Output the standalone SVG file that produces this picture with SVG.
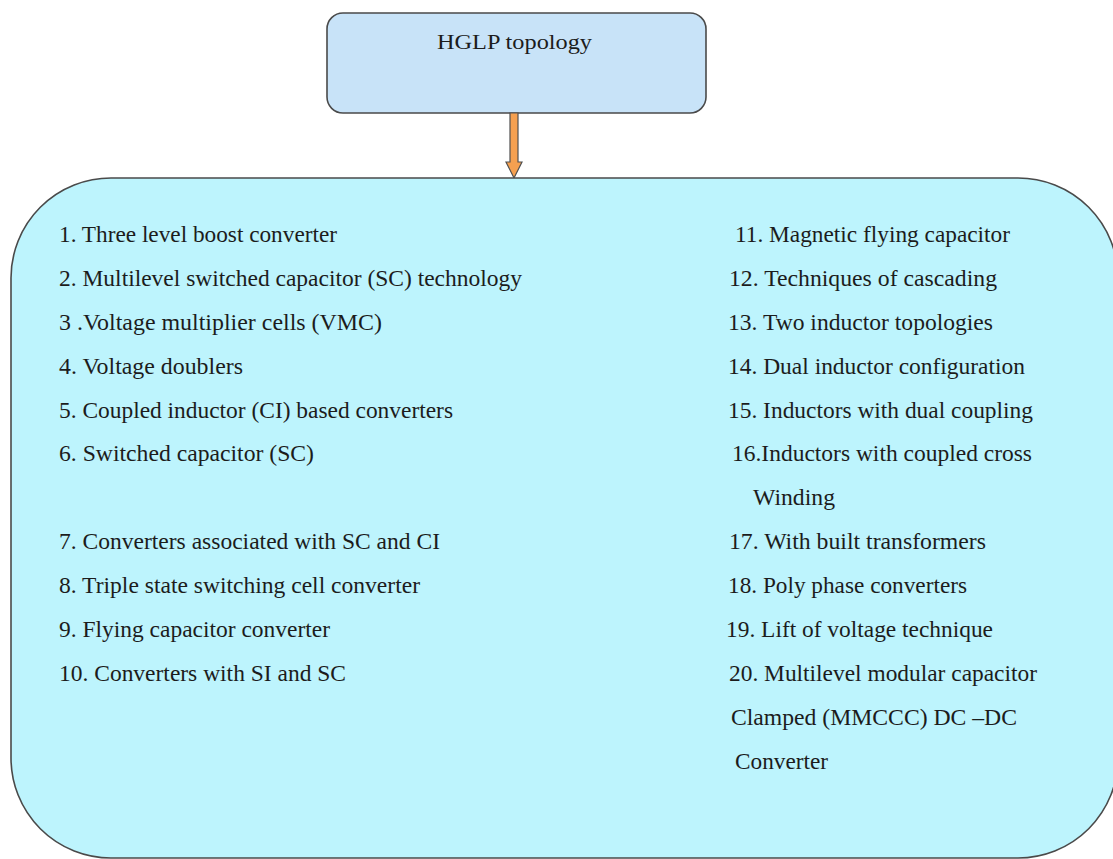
<svg xmlns="http://www.w3.org/2000/svg" width="1113" height="859" viewBox="0 0 1113 859">
  <style>
    .box { stroke: #4a4a4a; stroke-width: 1.6; }
    .item { font-family: "Liberation Serif", "Times New Roman", serif; font-size: 24px; fill: #1c1c1c; }
    .title { font-family: "Liberation Serif", "Times New Roman", serif; font-size: 22px; fill: #1c1c1c; }
    .arrow { fill: #f5a050; stroke: #505050; stroke-width: 1.2; }
  </style>

  <rect width="1113" height="859" fill="#ffffff"/>

  <!-- top node -->
  <g id="node-hglp">
    <rect class="box" x="327" y="13" width="379" height="100" rx="16" fill="#c8e3f8"/>
    <text class="title" x="437" y="49" textLength="155" lengthAdjust="spacingAndGlyphs">HGLP topology</text>
  </g>

  <!-- connector -->
  <g id="connectors">
    <polygon class="arrow" points="510,113 518,113 518,162 522,162 514,178 506,162 510,162"/>
  </g>

  <!-- list node -->
  <g id="node-list">
    <rect class="box" x="11" y="178" width="1107" height="680" rx="100" fill="#bdf4fd"/>
    <g class="item">
      <text x="59" y="242" textLength="278" lengthAdjust="spacingAndGlyphs">1. Three level boost converter</text>
      <text x="59" y="286" textLength="463" lengthAdjust="spacingAndGlyphs">2. Multilevel switched capacitor (SC) technology</text>
      <text x="59" y="330" textLength="323" lengthAdjust="spacingAndGlyphs">3 .Voltage multiplier cells (VMC)</text>
      <text x="59" y="374" textLength="184" lengthAdjust="spacingAndGlyphs">4. Voltage doublers</text>
      <text x="59" y="418" textLength="394" lengthAdjust="spacingAndGlyphs">5. Coupled inductor (CI) based converters</text>
      <text x="59" y="461" textLength="255" lengthAdjust="spacingAndGlyphs">6. Switched capacitor (SC)</text>
      <text x="59" y="549" textLength="381" lengthAdjust="spacingAndGlyphs">7. Converters associated with SC and CI</text>
      <text x="59" y="593" textLength="361" lengthAdjust="spacingAndGlyphs">8. Triple state switching cell converter</text>
      <text x="59" y="637" textLength="271" lengthAdjust="spacingAndGlyphs">9. Flying capacitor converter</text>
      <text x="59" y="681" textLength="287" lengthAdjust="spacingAndGlyphs">10. Converters with SI and SC</text>

      <text x="735" y="242" textLength="275" lengthAdjust="spacingAndGlyphs">11. Magnetic flying capacitor</text>
      <text x="729" y="286" textLength="268" lengthAdjust="spacingAndGlyphs">12. Techniques of cascading</text>
      <text x="728" y="330" textLength="265" lengthAdjust="spacingAndGlyphs">13. Two inductor topologies</text>
      <text x="728" y="374" textLength="297" lengthAdjust="spacingAndGlyphs">14. Dual inductor configuration</text>
      <text x="728" y="418" textLength="305" lengthAdjust="spacingAndGlyphs">15. Inductors with dual coupling</text>
      <text x="732" y="461" textLength="300" lengthAdjust="spacingAndGlyphs">16.Inductors with coupled cross</text>
      <text x="753" y="505" textLength="82" lengthAdjust="spacingAndGlyphs">Winding</text>
      <text x="729" y="549" textLength="257" lengthAdjust="spacingAndGlyphs">17. With built transformers</text>
      <text x="728" y="593" textLength="239" lengthAdjust="spacingAndGlyphs">18. Poly phase converters</text>
      <text x="726" y="637" textLength="267" lengthAdjust="spacingAndGlyphs">19. Lift of voltage technique</text>
      <text x="729" y="681" textLength="308" lengthAdjust="spacingAndGlyphs">20. Multilevel modular capacitor</text>
      <text x="731" y="725" textLength="286" lengthAdjust="spacingAndGlyphs">Clamped (MMCCC) DC –DC</text>
      <text x="735" y="769" textLength="93" lengthAdjust="spacingAndGlyphs">Converter</text>
    </g>
  </g>
</svg>
